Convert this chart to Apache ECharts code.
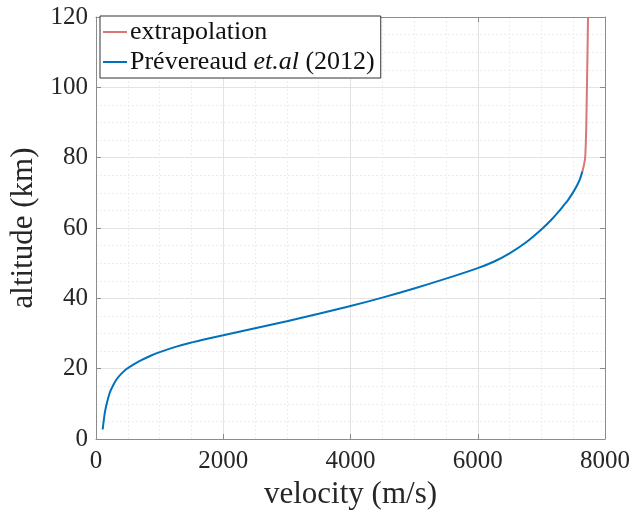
<!DOCTYPE html>
<html><head><meta charset="utf-8">
<script src="https://cdn.jsdelivr.net/npm/echarts@6/dist/echarts.min.js"></script>
<style>html,body{margin:0;padding:0;background:#fff}#c{width:633px;height:515px}</style>
</head><body><div id="c"></div>
<script>
// Prévereaud et.al (2012) data: velocity (m/s) vs altitude (km)
const prevVelocity = [105, 120, 141, 175, 219, 270, 324, 400, 480, 580, 689, 850, 1002, 1250, 1472, 1750, 2000, 2500, 3000, 3500, 4000, 4500, 5000, 5500, 6000, 6250, 6500, 6750, 7000, 7150, 7264, 7350, 7421, 7500, 7551, 7600, 7645];
const prevAltitude = [2.7, 5, 7.7, 10.5, 13.3, 15.3, 17, 18.6, 19.9, 21.1, 22.2, 23.6, 24.7, 26.2, 27.3, 28.5, 29.5, 31.5, 33.5, 35.6, 37.8, 40.2, 42.8, 45.6, 48.6, 50.4, 52.8, 55.8, 59.6, 62.2, 64.5, 66.4, 68, 70.2, 71.8, 73.6, 76.1];
// extrapolation
const extVelocity = [7645, 7670, 7688, 7700, 7707, 7716, 7725, 7733];
const extAltitude = [76.1, 78, 80, 85, 90, 100, 110, 120];
const xTicks = [0, 2000, 4000, 6000, 8000];
const yTicks = [0, 20, 40, 60, 80, 100, 120];

const zip = (a, b) => a.map((v, i) => [v, b[i]]);
const font = '"Liberation Serif", "DejaVu Serif", serif';
const txt = '#262626';
const axisCol = '#8c8c8c';

const chart = echarts.init(document.getElementById('c'), null, {renderer: 'canvas'});
const baseX = {
  type: 'value', min: xTicks[0], max: xTicks[xTicks.length - 1], interval: 2000,
  axisLine: {show: true, onZero: false, lineStyle: {color: axisCol, width: 1}},
  axisTick: {show: true, inside: true, length: 5, lineStyle: {color: axisCol}},
  splitLine: {show: false}, minorTick: {show: false}
};
const baseY = {
  type: 'value', min: yTicks[0], max: yTicks[yTicks.length - 1], interval: 20,
  axisLine: {show: true, onZero: false, lineStyle: {color: axisCol, width: 1}},
  axisTick: {show: true, inside: true, length: 5, lineStyle: {color: axisCol}},
  splitLine: {show: false}, minorTick: {show: false}
};
chart.setOption({
  animation: false,
  backgroundColor: '#fff',
  grid: {left: 96, right: 26, top: 17, bottom: 75},
  legend: {
    left: 100, top: 16, orient: 'vertical',
    backgroundColor: '#fff', borderColor: '#333', borderWidth: 1,
    padding: [3, 6, 3, 3], itemGap: 4,
    icon: 'rect', itemWidth: 24, itemHeight: 2,
    textStyle: {fontFamily: font, fontSize: 26, color: '#111', padding: [0, 0, 0, -2],
      rich: {i: {fontFamily: font, fontSize: 26, fontStyle: 'italic', color: '#111'}}},
    formatter: n => n === 'Prévereaud et.al (2012)' ? 'Prévereaud {i|et.al} (2012)' : n,
    data: ['extrapolation', 'Prévereaud et.al (2012)']
  },
  xAxis: [
    Object.assign({}, baseX, {
      position: 'bottom',
      axisLabel: {show: true, fontFamily: font, fontSize: 25, color: txt, margin: 10,
        formatter: v => String(v)},
      splitLine: {show: true, lineStyle: {color: '#e3e3e3', width: 1}},
      minorTick: {show: false, splitNumber: 4},
      minorSplitLine: {show: true, lineStyle: {color: '#ededed', type: [2, 2], width: 1}},
      name: 'velocity (m/s)', nameLocation: 'middle', nameGap: 40,
      nameTextStyle: {fontFamily: font, fontSize: 31, color: txt}
    }),
    Object.assign({}, baseX, {position: 'top', axisLabel: {show: false}})
  ],
  yAxis: [
    Object.assign({}, baseY, {
      position: 'left',
      axisLabel: {show: true, fontFamily: font, fontSize: 25, color: txt, margin: 8,
        formatter: v => String(v)},
      splitLine: {show: true, lineStyle: {color: '#e3e3e3', width: 1}},
      minorTick: {show: false, splitNumber: 4},
      minorSplitLine: {show: true, lineStyle: {color: '#ededed', type: [2, 2], width: 1}},
      name: 'altitude (km)', nameLocation: 'middle', nameGap: 52,
      nameTextStyle: {fontFamily: font, fontSize: 31, color: txt}
    }),
    Object.assign({}, baseY, {position: 'right', axisLabel: {show: false}})
  ],
  series: [
    {name: 'extrapolation', type: 'line', showSymbol: false, smooth: 0.3,
     data: zip(extVelocity, extAltitude),
     lineStyle: {color: '#DB7676', width: 2}, itemStyle: {color: '#DB7676'}, z: 3},
    {name: 'Prévereaud et.al (2012)', type: 'line', showSymbol: false, smooth: 0.3,
     data: zip(prevVelocity, prevAltitude),
     lineStyle: {color: '#0072BD', width: 2}, itemStyle: {color: '#0072BD'}, z: 4}
  ]
});
</script></body></html>
